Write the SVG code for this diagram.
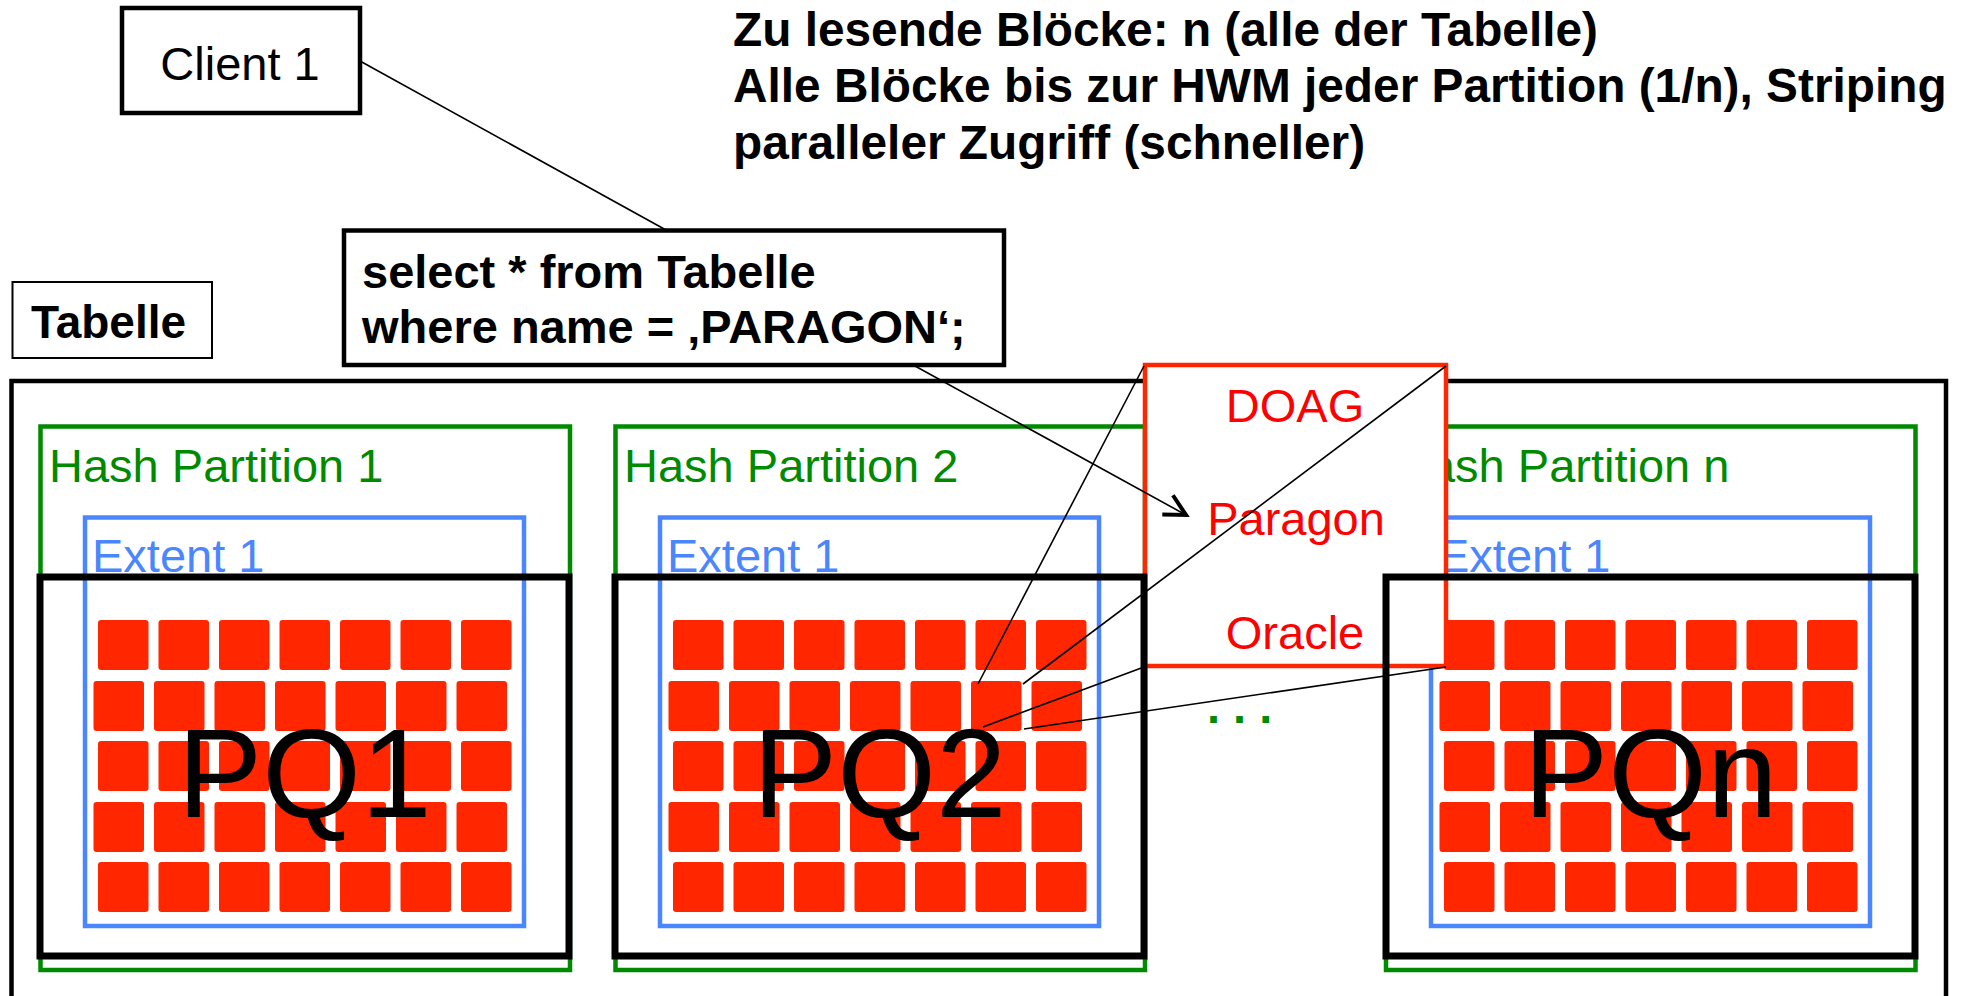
<svg xmlns="http://www.w3.org/2000/svg" xmlns:xlink="http://www.w3.org/1999/xlink" width="1964" height="996" viewBox="0 0 1964 996">
<style>
.t{font-family:"Liberation Sans",Arial,sans-serif}
.b{font-weight:bold}
.blk{fill:#ff2600}
.part{fill:none;stroke:#008a00;stroke-width:4.5}
.ptxt{fill:#008a00;font-size:47px}
.ext{fill:none;stroke:#4a86ff;stroke-width:4.5}
.etxt{fill:#4a86ff;font-size:47px}
.pq{fill:none;stroke:#000;stroke-width:7}
.pqtxt{fill:#000;font-size:127px;text-anchor:middle}
.box{fill:#fff;stroke:#000;stroke-width:4.5}
.con{fill:none;stroke:#000;stroke-width:1.6}
.red{fill:#ff0000;font-size:47px;text-anchor:middle}
</style>
<defs>
<marker id="arr" markerUnits="userSpaceOnUse" markerWidth="40" markerHeight="40" viewBox="-30 -20 40 40" refX="0" refY="0" orient="auto" overflow="visible">
<path d="M-21,-11 L0,0 L-21,11" fill="none" stroke="#000" stroke-width="4"/>
</marker>
<g id="blocks">
<rect class="blk" x="98" y="620" width="50.5" height="50" rx="3"/><rect class="blk" x="158.5" y="620" width="50.5" height="50" rx="3"/><rect class="blk" x="219" y="620" width="50.5" height="50" rx="3"/><rect class="blk" x="279.5" y="620" width="50.5" height="50" rx="3"/><rect class="blk" x="340" y="620" width="50.5" height="50" rx="3"/><rect class="blk" x="400.5" y="620" width="50.5" height="50" rx="3"/><rect class="blk" x="461" y="620" width="50.5" height="50" rx="3"/>
<rect class="blk" x="93.5" y="681" width="50.5" height="50" rx="3"/><rect class="blk" x="154" y="681" width="50.5" height="50" rx="3"/><rect class="blk" x="214.5" y="681" width="50.5" height="50" rx="3"/><rect class="blk" x="275" y="681" width="50.5" height="50" rx="3"/><rect class="blk" x="335.5" y="681" width="50.5" height="50" rx="3"/><rect class="blk" x="396" y="681" width="50.5" height="50" rx="3"/><rect class="blk" x="456.5" y="681" width="50.5" height="50" rx="3"/>
<rect class="blk" x="98" y="741" width="50.5" height="50" rx="3"/><rect class="blk" x="158.5" y="741" width="50.5" height="50" rx="3"/><rect class="blk" x="219" y="741" width="50.5" height="50" rx="3"/><rect class="blk" x="279.5" y="741" width="50.5" height="50" rx="3"/><rect class="blk" x="340" y="741" width="50.5" height="50" rx="3"/><rect class="blk" x="400.5" y="741" width="50.5" height="50" rx="3"/><rect class="blk" x="461" y="741" width="50.5" height="50" rx="3"/>
<rect class="blk" x="93.5" y="802" width="50.5" height="50" rx="3"/><rect class="blk" x="154" y="802" width="50.5" height="50" rx="3"/><rect class="blk" x="214.5" y="802" width="50.5" height="50" rx="3"/><rect class="blk" x="275" y="802" width="50.5" height="50" rx="3"/><rect class="blk" x="335.5" y="802" width="50.5" height="50" rx="3"/><rect class="blk" x="396" y="802" width="50.5" height="50" rx="3"/><rect class="blk" x="456.5" y="802" width="50.5" height="50" rx="3"/>
<rect class="blk" x="98" y="862" width="50.5" height="50" rx="3"/><rect class="blk" x="158.5" y="862" width="50.5" height="50" rx="3"/><rect class="blk" x="219" y="862" width="50.5" height="50" rx="3"/><rect class="blk" x="279.5" y="862" width="50.5" height="50" rx="3"/><rect class="blk" x="340" y="862" width="50.5" height="50" rx="3"/><rect class="blk" x="400.5" y="862" width="50.5" height="50" rx="3"/><rect class="blk" x="461" y="862" width="50.5" height="50" rx="3"/>
</g>
</defs>
<rect width="1964" height="996" fill="#fff"/>

<g id="title" class="t b" font-size="47.8" fill="#000">
<text x="733" y="46">Zu lesende Blöcke: n (alle der Tabelle)</text>
<text x="733" y="102">Alle Blöcke bis zur HWM jeder Partition (1/n), Striping</text>
<text x="733" y="159">paralleler Zugriff (schneller)</text>
</g>

<g id="client1">
<rect class="box" x="122" y="8" width="238" height="105"/>
<text class="t" x="240" y="80" font-size="47" text-anchor="middle">Client 1</text>
</g>

<g id="query">
<rect class="box" x="344" y="230.5" width="660" height="134.5"/>
<text class="t b" x="362" y="288" font-size="47">select * from Tabelle</text>
<text class="t b" x="362" y="343" font-size="47">where name = ‚PARAGON‘;</text>
</g>

<g id="tabelle-label">
<rect x="12.5" y="282" width="199.5" height="76" fill="#fff" stroke="#000" stroke-width="2"/>
<text class="t b" x="31" y="338" font-size="46">Tabelle</text>
</g>

<g id="table">
<rect x="11.5" y="381" width="1934.5" height="700" fill="none" stroke="#000" stroke-width="4.5"/>
</g>

<g id="partition1">
<rect class="part" x="40.5" y="426.5" width="529.5" height="543.5"/>
<text class="t ptxt" x="49" y="482">Hash Partition 1</text>
<rect class="ext" x="85" y="517.5" width="439" height="408.5"/>
<text class="t etxt" x="92" y="572">Extent 1</text>
<use xlink:href="#blocks" href="#blocks"/>
</g>

<g id="partition2">
<rect class="part" x="615.5" y="426.5" width="529.5" height="543.5"/>
<text class="t ptxt" x="624" y="482">Hash Partition 2</text>
<rect class="ext" x="660" y="517.5" width="439" height="408.5"/>
<text class="t etxt" x="667" y="572">Extent 1</text>
<use xlink:href="#blocks" href="#blocks" transform="translate(575,0)"/>
</g>

<g id="partitionN">
<rect class="part" x="1386" y="426.5" width="529.5" height="543.5"/>
<text class="t ptxt" x="1395" y="482">Hash Partition n</text>
<rect class="ext" x="1431" y="517.5" width="439" height="408.5"/>
<text class="t etxt" x="1438" y="572">Extent 1</text>
<use xlink:href="#blocks" href="#blocks" transform="translate(1346,0)"/>
</g>

<g id="dots">
<text class="t b" x="1207" y="723" font-size="47" fill="#008a00">. . .</text>
</g>

<g id="zoom-box">
<rect x="1145" y="365" width="301" height="301" fill="#fff" stroke="#ff2600" stroke-width="4.5"/>
<text class="t red" x="1295" y="422">DOAG</text>
<text class="t red" x="1296" y="535">Paragon</text>
<text class="t red" x="1295" y="649">Oracle</text>
</g>

<g id="pq1">
<rect class="pq" x="40" y="577" width="529" height="379"/>
<text class="t pqtxt" x="304.5" y="817">PQ1</text>
</g>
<g id="pq2">
<rect class="pq" x="615" y="577" width="529" height="379"/>
<text class="t pqtxt" x="879.5" y="817">PQ2</text>
</g>
<g id="pqn">
<rect class="pq" x="1386" y="577" width="529" height="379"/>
<text class="t pqtxt" x="1650.5" y="817">PQn</text>
</g>

<g id="connectors">
<line class="con" x1="360" y1="61" x2="666" y2="230"/>
<line class="con" x1="915" y1="366" x2="1186" y2="515" marker-end="url(#arr)"/>
<line class="con" x1="978" y1="684" x2="1144" y2="366"/>
<line class="con" x1="1023" y1="684" x2="1446" y2="366"/>
<line class="con" x1="983" y1="727" x2="1144" y2="667"/>
<line class="con" x1="1024" y1="729" x2="1446" y2="667"/>
</g>
</svg>
